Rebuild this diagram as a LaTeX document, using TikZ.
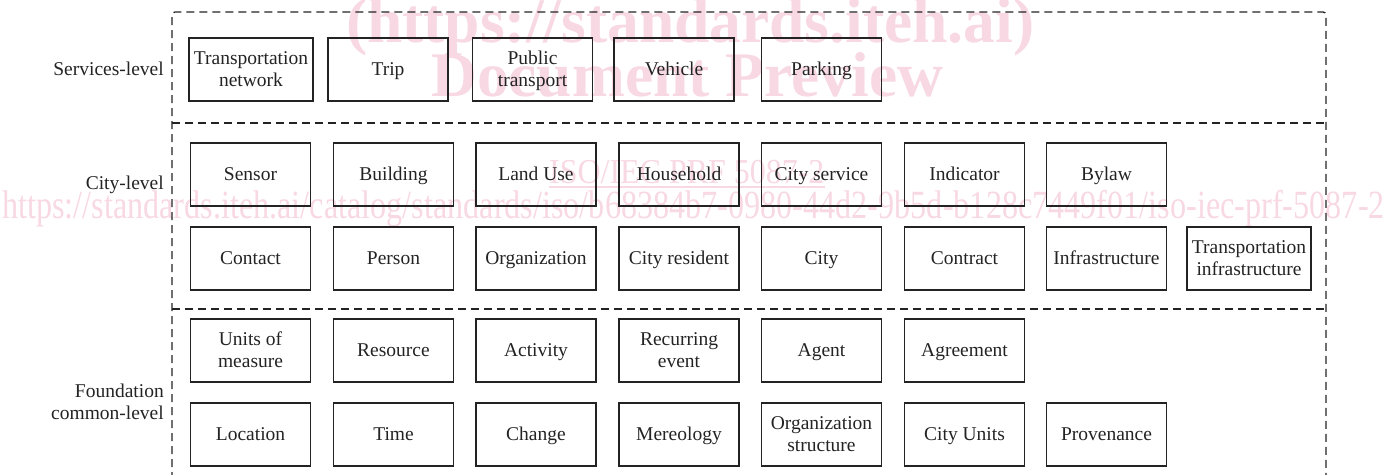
\documentclass[tikz,border=0pt]{standalone}
\usepackage{fontspec}
\setmainfont{Liberation Serif}
\definecolor{wmpink}{RGB}{248,216,226}
\definecolor{ink}{RGB}{35,35,35}
\newcommand{\stl}[1]{#1\rule[-4.6pt]{0pt}{22pt}}
\begin{document}
\begin{tikzpicture}[x=1pt,y=-1pt,
  box/.style={draw=ink, line width=1.8pt, minimum height=63pt, minimum width=120pt,
    inner sep=1pt, align=center, text=ink, font=\fontsize{19.5}{22}\selectfont},
  wide/.style={minimum width=124pt},
  lvl/.style={anchor=east, align=right, inner sep=0pt, text=ink, font=\fontsize{19.5}{22}\selectfont},
  dashline/.style={draw=ink, line width=1.3pt, dash pattern=on 8pt off 5pt},
  wm/.style={text=wmpink, inner sep=0pt, anchor=base west}
]
\useasboundingbox (0,0) rectangle (1388,474);
% watermark
\node[wm, font=\fontsize{63.5}{70}\bfseries\selectfont] (wm1) at (346,42) {(https://standards.iteh.ai)};
\node[wm, font=\fontsize{63.5}{70}\bfseries\selectfont] (wm2) at (431,96) {Document Preview};
\node[wm, font=\fontsize{35}{40}\selectfont, xscale=0.913] (wm3) at (549,183) {ISO/IEC PRF 5087-2};
\draw[wmpink, line width=1.5pt] ([yshift=-4pt]wm3.base west) -- ([yshift=-4pt]wm3.base east);
\node[wm, font=\fontsize{40}{44}\selectfont, xscale=0.805] (wm4) at (2,218) {https://standards.iteh.ai/catalog/standards/iso/b68384b7-0980-44d2-9b5d-b128c7449f01/iso-iec-prf-5087-2};
% frame
\coordinate (fbl) at (172,480);
\coordinate (ftl) at (172,12);
\coordinate (ftr) at (1326,12);
\coordinate (fbr) at (1326,480);
\coordinate (s1l) at (172,123);
\coordinate (s1r) at (1326,123);
\coordinate (s2l) at (172,309);
\coordinate (s2r) at (1326,309);
\draw[dashline, rounded corners=3pt] (fbl) -- (ftl) -- (ftr) -- (fbr);
\draw[dashline] (s1l) -- (s1r);
\draw[dashline] (s2l) -- (s2r);
% level labels
\node[lvl] (lserv) at (164,69) {\stl{Services-level}};
\node[lvl] (lcity) at (164,183) {\stl{City-level}};
\node[lvl] (lfound) at (164,402) {\stl{Foundation}\\\stl{common-level}};
% services
\node[box, wide] (tn) at (251,69.5) {\stl{Transportation}\\\stl{network}};
\node[box] (trip) at (388,69.5) {\stl{Trip}};
\node[box] (pt) at (532.5,69.5) {\stl{Public}\\\stl{transport}};
\node[box] (veh) at (674,69.5) {\stl{Vehicle}};
\node[box] (park) at (821.5,69.5) {\stl{Parking}};
% city row 1
\node[box] (sensor) at (250.5,174.5) {\stl{Sensor}};
\node[box] (building) at (393.5,174.5) {\stl{Building}};
\node[box] (landuse) at (536,174.5) {\stl{Land Use}};
\node[box] (household) at (679,174.5) {\stl{Household}};
\node[box] (cityservice) at (821.5,174.5) {\stl{City service}};
\node[box] (indicator) at (964.5,174.5) {\stl{Indicator}};
\node[box] (bylaw) at (1106.5,174.5) {\stl{Bylaw}};
% city row 2
\node[box] (contact) at (250.5,258.5) {\stl{Contact}};
\node[box] (person) at (393.5,258.5) {\stl{Person}};
\node[box] (org) at (536,258.5) {\stl{Organization}};
\node[box] (resident) at (679,258.5) {\stl{City resident}};
\node[box] (city) at (821.5,258.5) {\stl{City}};
\node[box] (contract) at (964.5,258.5) {\stl{Contract}};
\node[box] (infra) at (1106.5,258.5) {\stl{Infrastructure}};
\node[box, wide] (tinfra) at (1249,258.5) {\stl{Transportation}\\\stl{infrastructure}};
% foundation row 1
\node[box] (units) at (250.5,350.5) {\stl{Units of}\\\stl{measure}};
\node[box] (resource) at (393.5,350.5) {\stl{Resource}};
\node[box] (activity) at (536,350.5) {\stl{Activity}};
\node[box] (recurring) at (679,350.5) {\stl{Recurring}\\\stl{event}};
\node[box] (agent) at (821.5,350.5) {\stl{Agent}};
\node[box] (agreement) at (964.5,350.5) {\stl{Agreement}};
% foundation row 2
\node[box] (location) at (250.5,434.5) {\stl{Location}};
\node[box] (time) at (393.5,434.5) {\stl{Time}};
\node[box] (change) at (536,434.5) {\stl{Change}};
\node[box] (mereology) at (679,434.5) {\stl{Mereology}};
\node[box] (orgstruct) at (821.5,434.5) {\stl{Organization}\\\stl{structure}};
\node[box] (cityunits) at (964.5,434.5) {\stl{City Units}};
\node[box] (provenance) at (1106.5,434.5) {\stl{Provenance}};
\end{tikzpicture}
\end{document}
